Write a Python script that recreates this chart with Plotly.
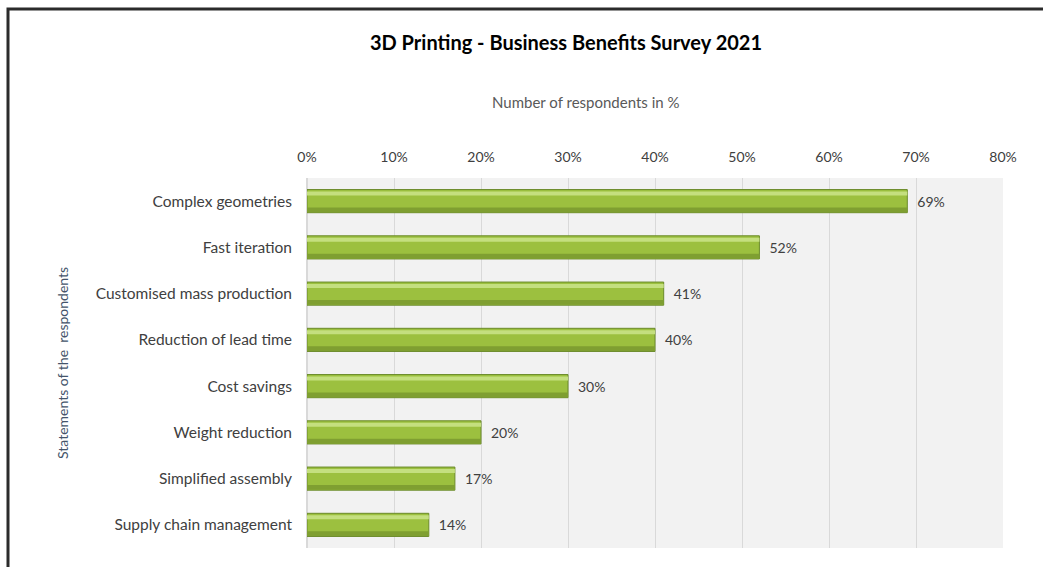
import plotly.graph_objects as go

# Survey statements (bottom to top) and share of respondents in percent
statements = [
    "Supply chain management",
    "Simplified assembly",
    "Weight reduction",
    "Cost savings",
    "Reduction of lead time",
    "Customised mass production",
    "Fast iteration",
    "Complex geometries",
]
shares = [14, 17, 20, 30, 40, 41, 52, 69]
tick_values = [0, 10, 20, 30, 40, 50, 60, 70, 80]
tick_labels = ["0%", "10%", "20%", "30%", "40%", "50%", "60%", "70%", "80%"]

FONT = "Lato"
TEXT = "#404040"

# plot area in pixels: x 307..1003, y 178..548
L, R, T, B = 307, 1003, 178, 548
PW, PH = R - L, B - T

value_labels = ["\u2002" + str(v) + "%" for v in shares]

fig = go.Figure()

# main bar body
fig.add_trace(go.Bar(
    x=shares, y=statements, orientation="h", width=0.5,
    marker=dict(color="#9cc03f", line=dict(color="#6b8a2a", width=1)),
    text=value_labels, texttemplate="%{text}", textposition="outside",
    textfont=dict(family=FONT, size=14, color=TEXT),
    cliponaxis=False, showlegend=False,
))
# darker lower band for a rounded look
fig.add_trace(go.Bar(
    x=shares, y=statements, orientation="h", width=0.1, offset=-0.24,
    marker=dict(color="#7f9f31", line=dict(width=0)),
    showlegend=False, hoverinfo="skip",
))
# light highlight along the upper edge
fig.add_trace(go.Bar(
    x=shares, y=statements, orientation="h", width=0.09, offset=0.12,
    marker=dict(color="#c4df7f", line=dict(width=0)),
    showlegend=False, hoverinfo="skip",
))

fig.update_layout(
    width=1043, height=567,
    margin=dict(l=L, r=1043 - R, t=T, b=567 - B),
    paper_bgcolor="white", plot_bgcolor="#f2f2f2",
    barmode="overlay",
    font=dict(family=FONT, color=TEXT),
    title=dict(
        text="<b>3D Printing - Business Benefits Survey 2021</b>",
        x=566 / 1043, xref="container", xanchor="center",
        y=1 - 43 / 567, yref="container", yanchor="middle",
        font=dict(family=FONT, size=20, color="#000000"),
    ),
    xaxis=dict(
        side="top", range=[0, 80], tickvals=tick_values, ticktext=tick_labels,
        showgrid=True, gridcolor="#d9d9d9", gridwidth=1,
        zeroline=True, zerolinecolor="#d9d9d9",
        showline=False, ticks="",
        tickfont=dict(family=FONT, size=14, color=TEXT),
        ticklabelstandoff=12,
    ),
    yaxis=dict(
        showgrid=False, ticks="", showline=False,
        tickfont=dict(family=FONT, size=15.5, color=TEXT),
        ticklabelstandoff=14,
    ),
    annotations=[
        dict(
            text="Number of respondents in %", x=(585 - L) / PW, xref="paper", xanchor="center",
            y=(B - 102) / PH, yref="paper", yanchor="middle",
            showarrow=False, font=dict(family=FONT, size=15, color="#595959"),
        ),
        dict(
            text="Statements of the  respondents", textangle=-90,
            x=(62 - L) / PW, xref="paper", xanchor="center",
            y=(B - 363) / PH, yref="paper", yanchor="middle",
            showarrow=False, font=dict(family=FONT, size=14, color="#44546a"),
        ),
    ],
    shapes=[
        # chart frame
        dict(type="rect", xref="paper", yref="paper",
             x0=(8 - L) / PW, x1=1.2, y0=-0.3, y1=(B - 9) / PH,
             line=dict(color="#2b2b2b", width=3), fillcolor="rgba(0,0,0,0)",
             layer="below"),
    ],
)

fig.write_html("out.html")
